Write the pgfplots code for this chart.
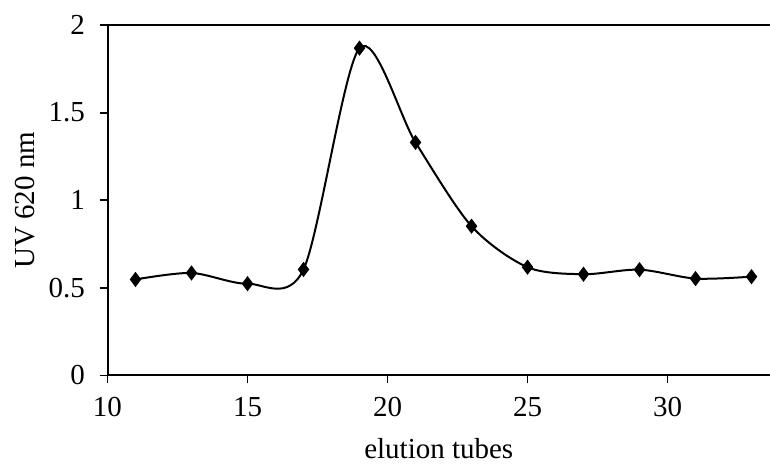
\documentclass[border=0pt]{standalone}
\usepackage{pgfplots}
\pgfplotsset{compat=1.18}
\usepackage{fontspec}
\setmainfont{Liberation Serif}
\begin{document}
\begin{tikzpicture}
\begin{axis}[
  at={(0,0)}, anchor=south west,
  scale only axis,
  width=331.25pt, height=175.25pt,
  xmin=10, xmax=33.66, ymin=0, ymax=2,
  axis x line=box, axis y line=left,
  axis line style={-, line width=1pt, black},
  xtick={10,15,20,25,30}, ytick={0,0.5,1,1.5,2},
  xtick pos=bottom, ytick pos=left,
  tick align=outside, major tick length=3.75pt,
  tick style={line width=0.9pt, black},
  every tick label/.append style={font=\fontsize{14.5}{17}\selectfont},
  yticklabel style={xshift=-4pt},
  xticklabel style={yshift=-3.5pt},
  /pgf/number format/assume math mode=true,
  xlabel={elution tubes}, ylabel={UV 620 nm},
  label style={font=\fontsize{14.5}{17}\selectfont},
  xlabel style={yshift=-4pt},
  clip=false,
]
\addplot[black, line width=1pt, smooth, tension=0.5, mark=diamond*, mark size=3pt, mark options={solid, fill=black}]
coordinates {
(11,0.548) (13,0.585) (15,0.524) (17,0.605) (19,1.868) (21,1.33) (23,0.852)
(25,0.618) (27,0.578) (29,0.604) (31,0.553) (33,0.564)
};
\end{axis}
\pgfresetboundingbox
\useasboundingbox (-53.75pt,-44.25pt) rectangle (331.25pt,187.75pt);
\end{tikzpicture}
\end{document}
